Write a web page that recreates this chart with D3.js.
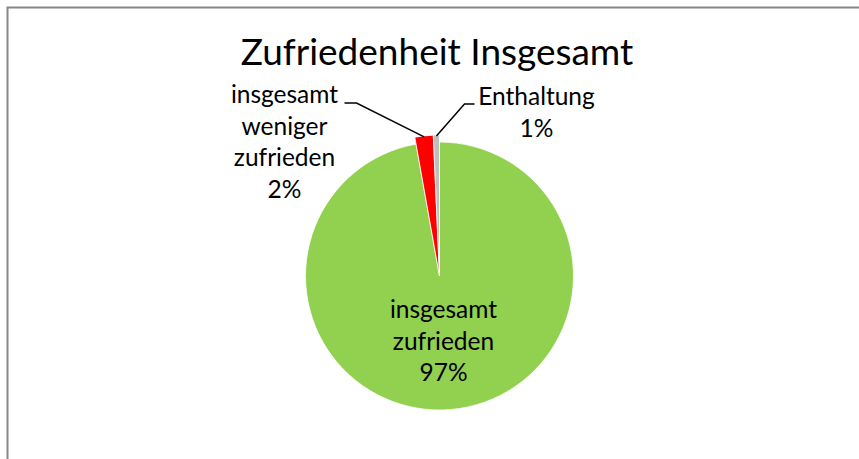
<!DOCTYPE html>
<html>
<head>
<meta charset="utf-8">
<script src="https://cdn.jsdelivr.net/npm/d3@7"></script>
<style>
  html, body { margin: 0; padding: 0; background: #fff; }
  svg { display: block; font-family: Lato, "Open Sans", sans-serif; }
</style>
</head>
<body>
<svg width="859" height="459"></svg>
<script>
// data
const categories = ["insgesamt zufrieden", "insgesamt weniger zufrieden", "Enthaltung"];
const values     = [97.2, 2.1, 0.7];
const colors     = ["#92D050", "#FF0000", "#BFBFBF"];
const labelLines = [["insgesamt", "zufrieden"], ["insgesamt", "weniger", "zufrieden"], ["Enthaltung"]];
const title      = "Zufriedenheit Insgesamt";

const svg = d3.select("svg"),
      cx = 439.5, cy = 276,
      rMain = 134, rSmall = 141,
      lineH = 31.5;

// chart frame (goes past the window on the right and bottom)
svg.append("rect")
    .attr("x", 7.5).attr("y", 7.5)
    .attr("width", 900).attr("height", 500)
    .attr("fill", "none")
    .attr("stroke", "#878787")
    .attr("stroke-width", 2);

svg.append("text")
    .attr("x", 437).attr("y", 65)
    .attr("text-anchor", "middle")
    .style("font-size", "37px")
    .attr("fill", "#000")
    .text(title);

const data = categories.map((c, i) => ({name: c, value: values[i], color: colors[i], lines: labelLines[i]}));
const total = d3.sum(values);

const pie = d3.pie().sort(null).value(d => d.value);
const arcs = pie(data);

const g = svg.append("g").attr("transform", `translate(${cx},${cy})`);

const arcFor = d => d3.arc().innerRadius(0).outerRadius(d.index === 0 ? rMain : rSmall);

g.selectAll("path.slice")
  .data(arcs)
  .enter().append("path")
    .attr("class", "slice")
    .attr("d", d => arcFor(d)(d))
    .attr("fill", d => d.data.color)
    .attr("stroke", "#fff")
    .attr("stroke-width", 0.8);

const pct = d => Math.round(d.data.value / total * 100) + "%";

// label anchors (relative to the pie centre) and leader elbow
const labelPos = [
  {x: 4,    y: 42,   anchor: "middle"},
  {x: -155, y: -173, anchor: "middle", elbow: [-83, -173], end: [-95, -173]},
  {x: 97,   y: -171, anchor: "middle", elbow: [25, -172], end: [35, -172]}
];

arcs.forEach((d, i) => {
  const p = labelPos[i];
  const lines = d.data.lines.concat([pct(d)]);
  const t = g.append("text")
      .attr("text-anchor", p.anchor)
      .style("font-size", "24.5px")
      .attr("fill", "#000");
  lines.forEach((l, k) => {
    t.append("tspan")
      .attr("x", p.x)
      .attr("y", p.y + k * lineH)
      .text(l);
  });
  if (p.elbow) {
    const a = (d.startAngle + d.endAngle) / 2,
          r = rSmall - 1,
          start = [Math.sin(a) * r, -Math.cos(a) * r];
    g.append("path")
      .attr("d", d3.line()([start, p.elbow, p.end]))
      .attr("fill", "none")
      .attr("stroke", "#000")
      .attr("stroke-width", 1.5);
  }
});
</script>
</body>
</html>
